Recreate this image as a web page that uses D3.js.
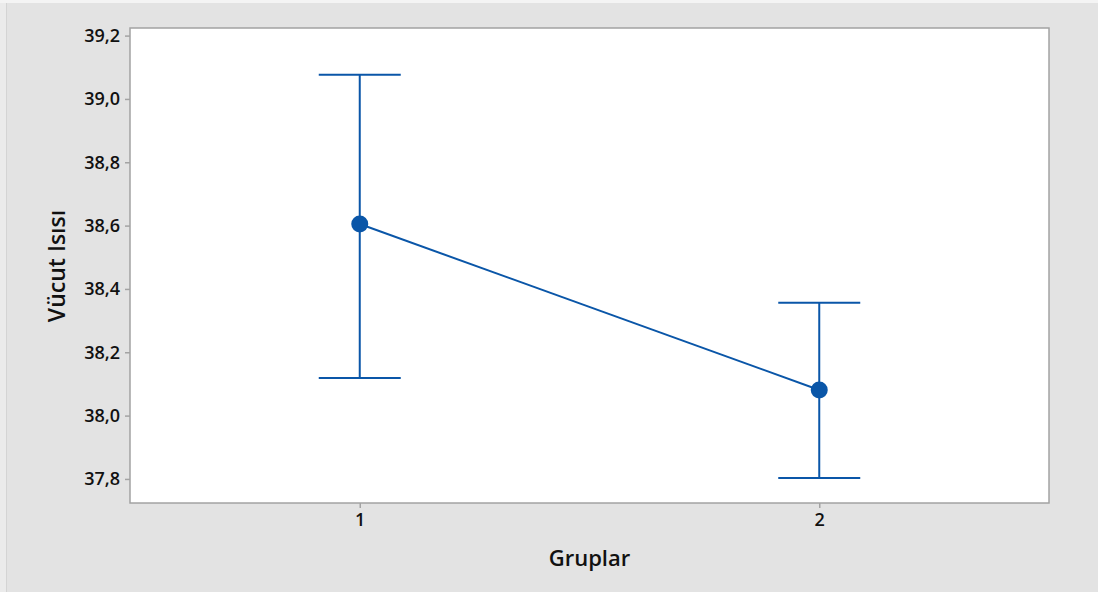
<!DOCTYPE html>
<html>
<head>
<meta charset="utf-8">
<script src="https://cdn.jsdelivr.net/npm/d3@7"></script>
<style>
  body { margin: 0; background: #e3e3e3; }
  svg { display: block; font-family: "Open Sans", "Noto Sans", sans-serif; }
</style>
</head>
<body>
<svg id="chart" width="1098" height="592"></svg>
<script>
// data
var groups = [1, 2]
var means = [38.605, 38.081]
var upper = [39.076, 38.356]
var lower = [38.119, 37.803]
var yTicks = [37.8, 38.0, 38.2, 38.4, 38.6, 38.8, 39.0, 39.2]

var svg = d3.select('#chart')
var margin = { left: 130, top: 28, right: 49, bottom: 89 }
var width = 1098 - margin.left - margin.right
var height = 592 - margin.top - margin.bottom
var blue = '#0a56a8'

// outer background
svg.append('rect').attr('width', 1098).attr('height', 592).attr('fill', '#e3e3e3')
svg.append('rect').attr('width', 1098).attr('height', 3).attr('fill', '#f4f4f4')
svg.append('rect').attr('x', 0).attr('y', 3).attr('width', 6).attr('height', 589).attr('fill', '#ebebeb')
svg.append('rect').attr('x', 6).attr('y', 3).attr('width', 1).attr('height', 589).attr('fill', '#d4d4d4')

var x = d3.scaleLinear().domain([0.5, 2.5]).range([0, width])
var y = d3.scaleLinear().domain([37.724, 39.224]).range([height, 0])

var g = svg.append('g').attr('transform', 'translate(' + margin.left + ',' + margin.top + ')')

g.append('rect')
  .attr('width', width)
  .attr('height', height)
  .attr('fill', '#ffffff')
  .attr('stroke', '#a3a3a3')
  .attr('stroke-width', 1.5)

// axes
var yAxis = g.append('g')
  .call(d3.axisLeft(y).tickValues(yTicks).tickSize(5).tickPadding(5)
    .tickFormat(function (d) { return d3.format('.1f')(d).replace('.', ',') }))
var xAxis = g.append('g')
  .attr('transform', 'translate(0,' + height + ')')
  .call(d3.axisBottom(x).tickValues(groups).tickSize(5).tickPadding(5).tickFormat(d3.format('d')))

;[yAxis, xAxis].forEach(function (a) {
  a.attr('font-family', null).attr('font-size', null)
  a.select('.domain').remove()
  a.selectAll('.tick line').attr('stroke', '#a3a3a3').attr('stroke-width', 1.5)
  a.selectAll('.tick text')
    .attr('fill', '#111')
    .style('font-size', '18px')
    .style('font-weight', 600)
})

// error bars
var rows = groups.map(function (d, i) {
  return { g: d, mean: means[i], hi: upper[i], lo: lower[i] }
})
var cap = 41

var bars = g.selectAll('.err').data(rows).enter().append('g').attr('class', 'err')
bars.append('line')
  .attr('x1', function (d) { return x(d.g) })
  .attr('x2', function (d) { return x(d.g) })
  .attr('y1', function (d) { return y(d.hi) })
  .attr('y2', function (d) { return y(d.lo) })
bars.append('line')
  .attr('x1', function (d) { return x(d.g) - cap })
  .attr('x2', function (d) { return x(d.g) + cap })
  .attr('y1', function (d) { return y(d.hi) })
  .attr('y2', function (d) { return y(d.hi) })
bars.append('line')
  .attr('x1', function (d) { return x(d.g) - cap })
  .attr('x2', function (d) { return x(d.g) + cap })
  .attr('y1', function (d) { return y(d.lo) })
  .attr('y2', function (d) { return y(d.lo) })
bars.selectAll('line').attr('stroke', blue).attr('stroke-width', 2)

// connecting line
g.append('path')
  .datum(rows)
  .attr('fill', 'none')
  .attr('stroke', blue)
  .attr('stroke-width', 2)
  .attr('d', d3.line().x(function (d) { return x(d.g) }).y(function (d) { return y(d.mean) }))

g.selectAll('.pt').data(rows).enter().append('circle')
  .attr('class', 'pt')
  .attr('cx', function (d) { return x(d.g) })
  .attr('cy', function (d) { return y(d.mean) })
  .attr('r', 8.5)
  .attr('fill', blue)

// axis titles
svg.append('text')
  .attr('x', margin.left + width / 2)
  .attr('y', 566)
  .attr('text-anchor', 'middle')
  .style('font-size', '22px')
  .style('font-weight', 600)
  .attr('fill', '#111')
  .text('Gruplar')

svg.append('text')
  .attr('transform', 'translate(65,266) rotate(-90)')
  .attr('text-anchor', 'middle')
  .style('font-size', '23px')
  .style('font-weight', 600)
  .attr('fill', '#111')
  .text('Vücut Isısı')
</script>
</body>
</html>
